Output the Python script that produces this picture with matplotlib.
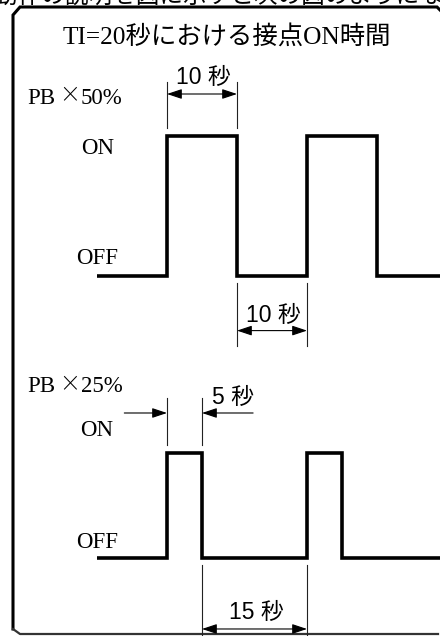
import matplotlib
matplotlib.use('Agg')
import matplotlib.pyplot as plt
from matplotlib.patches import FancyArrowPatch

# waveform data: transition times (s) and contact state (0=OFF, 1=ON)
time_50 = [-10, 0, 10, 20, 30, 39]
state_50 = [0, 1, 0, 1, 0, 0]
time_25 = [-10, 0, 5, 20, 25, 39]
state_25 = [0, 1, 0, 1, 0, 0]

# dimension marks: (start s, end s, label)
dims_50_top = (0, 10, '10 秒')
dims_50_bot = (10, 20, '10 秒')
dims_25_top = (0, 5, '5 秒')
dims_25_bot = (5, 20, '15 秒')

title = 'TI=20秒における接点ON時間'
header_cut = '動作の説明を図に示すと次の図のようになります'

W, H, DPI = 440, 636, 100
SERIF = ['Liberation Serif', 'Noto Sans CJK JP']
SANS = ['Noto Sans CJK JP', 'DejaVu Sans']
DIMF = ['Liberation Sans', 'Noto Sans CJK JP']
PX_PER_S = 7.0
T0_PX = 167.0

fig = plt.figure(figsize=(W / DPI, H / DPI), dpi=DPI)
base = fig.add_axes([0, 0, 1, 1])
base.set_xlim(0, W)
base.set_ylim(H, 0)
base.axis('off')

# frame with chamfered corners
base.plot([13, 13, 20, 437, 440], [629, 15, 7, 7, 10], color='black', lw=2.2,
          solid_joinstyle='miter')
base.plot([438, 20, 13], [634, 634, 629], color='#333333', lw=1.6)

# line of running text above the frame, cut off by the top edge
base.text(-6, -4, header_cut, family=SANS, fontsize=17, va='center', ha='left')
base.text(227, 37, title, family=SERIF, fontsize=18.3, va='center', ha='center')


def pb_label(y, pct):
    base.text(27, y, 'PB', family=SERIF, fontsize=16.5, va='center', ha='left')
    base.text(70, y - 3, '×', family=SANS, fontsize=15, va='center', ha='center',
              fontweight='light')
    base.text(81, y, pct, family=SERIF, fontsize=16.5, va='center', ha='left')


pb_label(98, '50%')
base.text(98, 148, 'ON', family=SERIF, fontsize=16.5, va='center', ha='center')
base.text(97, 258, 'OFF', family=SERIF, fontsize=16.5, va='center', ha='center')
pb_label(387, '25%')
base.text(97, 430, 'ON', family=SERIF, fontsize=16.5, va='center', ha='center')
base.text(97, 543, 'OFF', family=SERIF, fontsize=16.5, va='center', ha='center')


def wave_axes(p_off, p_on):
    # map level 0 -> pixel row p_off, level 1 -> p_on (rows counted from top)
    ax = fig.add_axes([0, 0, 1, 1])
    ax.patch.set_alpha(0)
    ax.axis('off')
    unit = p_off - p_on
    b_off = H - p_off
    ax.set_xlim(-T0_PX / PX_PER_S, (W - T0_PX) / PX_PER_S)
    ax.set_ylim(-b_off / unit, (H - b_off) / unit)
    return ax


def arrow(ax, a, b, style):
    ax.add_patch(FancyArrowPatch(a, b, arrowstyle=style + ',head_length=0.9,head_width=0.3',
                                 mutation_scale=10, color='black', lw=0.8,
                                 shrinkA=0, shrinkB=0))


def dimension(ax, t1, t2, y_ext0, y_ext1, y_arr, tails=None):
    for t in (t1, t2):
        ax.plot([t, t], [y_ext0, y_ext1], color='#222222', lw=0.8)
    if tails is None:
        arrow(ax, (t1, y_arr), (t2, y_arr), '<|-|>')
    else:
        arrow(ax, (tails[0], y_arr), (t1, y_arr), '-|>')
        arrow(ax, (tails[1], y_arr), (t2, y_arr), '-|>')


# PB x 50%
ax1 = wave_axes(276, 136)
ax1.step(time_50, state_50, where='post', color='black', lw=2.6,
         solid_joinstyle='miter', solid_capstyle='butt')
dimension(ax1, dims_50_top[0], dims_50_top[1], 1.057, 1.386, 1.30)
ax1.text(sum(dims_50_top[:2]) / 2 + 0.2, 1.42, dims_50_top[2], family=DIMF,
         fontsize=16.5, ha='center', va='center')
dimension(ax1, dims_50_bot[0], dims_50_bot[1], -0.05, -0.50, -0.39)
ax1.text(sum(dims_50_bot[:2]) / 2 + 0.2, -0.285, dims_50_bot[2], family=DIMF,
         fontsize=16.5, ha='center', va='center')

# PB x 25%
ax2 = wave_axes(558, 453)
ax2.step(time_25, state_25, where='post', color='black', lw=2.6,
         solid_joinstyle='miter', solid_capstyle='butt')
dimension(ax2, dims_25_top[0], dims_25_top[1], 1.076, 1.524, 1.381, tails=(-6.1, 12.3))
ax2.text(9.4, 1.53, dims_25_top[2], family=DIMF, fontsize=16.5, ha='center', va='center')
dimension(ax2, dims_25_bot[0], dims_25_bot[1], -0.067, -0.75, -0.676)
ax2.text(sum(dims_25_bot[:2]) / 2 + 0.3, -0.515, dims_25_bot[2], family=DIMF,
         fontsize=16.5, ha='center', va='center')

fig.savefig('out.png', dpi=DPI)
